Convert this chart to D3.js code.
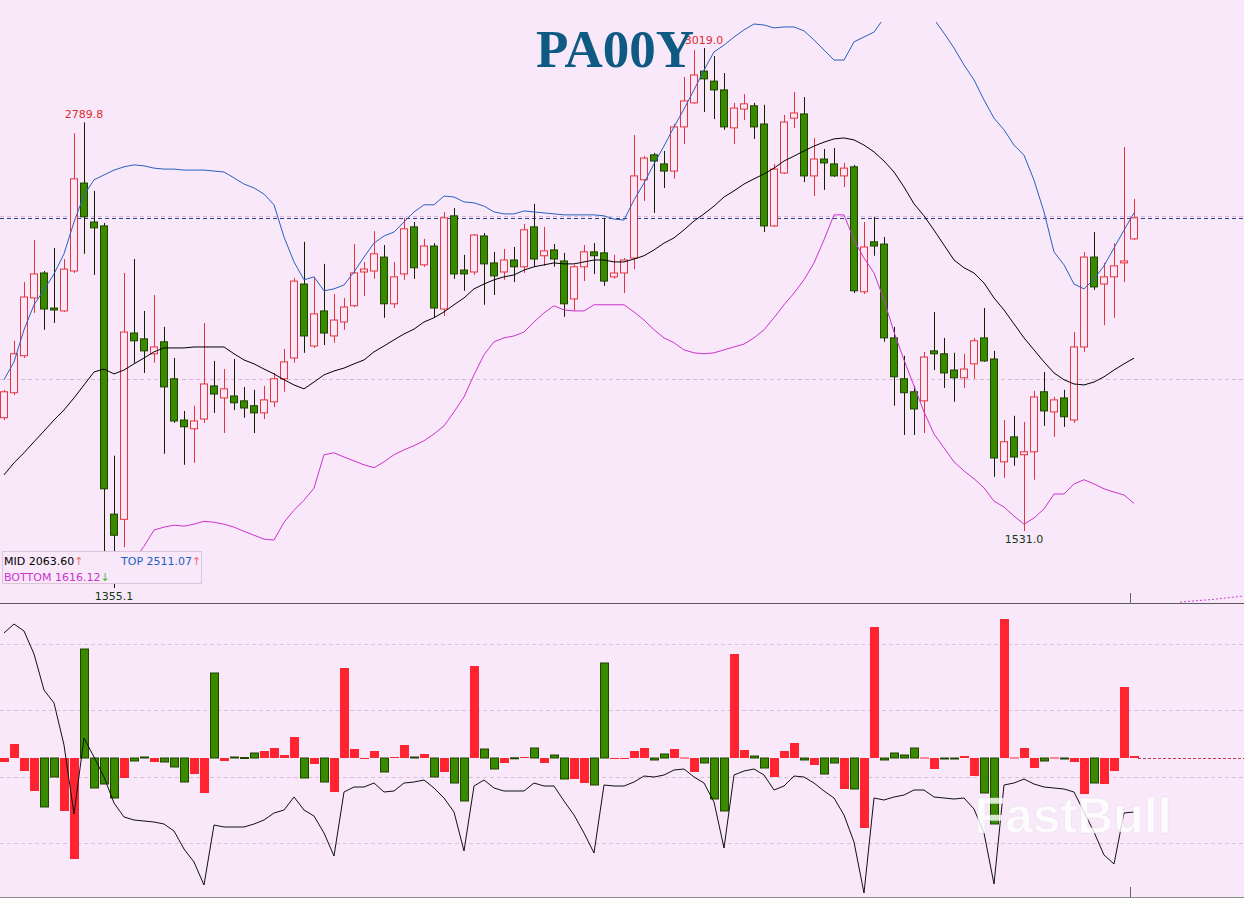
<!DOCTYPE html>
<html><head><meta charset="utf-8">
<script src="https://cdn.jsdelivr.net/npm/d3@7"></script>
<style>html,body{margin:0;padding:0;background:#f8e8fa;}svg{display:block}</style>
</head><body><svg id="c" width="1244" height="898"></svg>
<script>
// ---- data (price chart, daily candles) ----
const opens=[1880,1957,2071,2249,2326,2218,2209,2332,2603,2483,
2471,1583,1567,2141,2123,2077,2114,2000,1873,1846,
1876,1978,1941,1947,1932,1917,1895,1929,2000,2064,
2292,2101,2209,2132,2175,2225,2329,2332,2375,2231,
2323,2468,2351,2409,2215,2502,2335,2329,2440,2357,
2329,2366,2345,2468,2379,2397,2363,2246,2345,2391,
2388,2314,2326,2372,2613,2690,2662,2640,2776,2850,
2948,2917,2890,2773,2831,2841,2785,2471,2634,2803,
2816,2625,2677,2662,2625,2653,2268,2422,2415,2126,
2000,1960,1932,2086,2077,2027,2003,2046,2126,2061,
1744,1821,1766,1775,1960,1898,1941,1873,2098,2375,
2292,2314,2357,2431];
const highs=[1966,2117,2298,2428,2332,2403,2369,2757,2789.8,2579,
2480,1763,2326,2369,2209,2258,2160,2064,1901,1917,
2172,2055,2030,2061,1975,1966,1978,2018,2092,2311,
2422,2314,2354,2261,2249,2415,2360,2455,2412,2360,
2496,2483,2431,2418,2514,2526,2382,2446,2449,2391,
2400,2406,2477,2539,2468,2415,2388,2351,2412,2418,
2496,2382,2372,2751,2686,2696,2702,2785,2930,3013,
3019.0,2994,2942,2850,2877,2850,2844,2662,2813,2884,
2868,2742,2708,2711,2665,2659,2483,2499,2437,2160,
2071,1978,2083,2206,2126,2080,2077,2126,2218,2086,
1873,1886,1867,1963,2021,1944,1966,2144,2391,2452,
2357,2418,2714,2554];
const lows=[1873,1950,2064,2203,2151,2172,2206,2326,2385,2320,
1466,1355.1,1481,2049,2018,2049,1769,1864,1735,1741,
1864,1895,1833,1904,1880,1833,1876,1913,1960,2049,
2080,2095,2104,2111,2151,2221,2255,2308,2188,2218,
2305,2308,2345,2188,2194,2308,2271,2320,2228,2258,
2305,2298,2326,2345,2348,2345,2191,2209,2301,2323,
2286,2308,2264,2338,2548,2511,2588,2616,2723,2847,
2822,2800,2767,2723,2797,2739,2452,2468,2631,2773,
2606,2563,2582,2622,2591,2264,2261,2379,2114,1917,
1827,1827,1833,2027,1972,1929,1972,2000,2052,1698,
1695,1732,1531.0,1689,1855,1821,1852,1864,2083,2274,
2165,2188,2298,2428];
const closes=[1960,2077,2252,2323,2215,2212,2338,2616,2499,2465,
1661,1518,2144,2117,2086,2098,1975,1870,1852,1870,
1984,1953,1969,1926,1910,1895,1935,2000,2052,2301,
2132,2200,2141,2181,2221,2326,2338,2385,2231,2314,
2462,2342,2409,2218,2496,2323,2323,2443,2354,2317,
2366,2345,2459,2369,2394,2369,2231,2345,2391,2379,
2301,2326,2366,2625,2680,2671,2640,2776,2856,2936,
2924,2890,2776,2834,2847,2776,2471,2646,2791,2819,
2625,2677,2665,2625,2649,2271,2406,2409,2126,2006,
1957,1907,2067,2077,2018,2003,2030,2117,2055,1756,
1806,1759,1775,1944,1901,1935,1883,2098,2375,2283,
2314,2348,2363,2496];
// Bollinger bands
const bandMid=[1704,1741,1772,1806,1839,1873,1904,1941,1981,2021,
2030,2015,2027,2046,2064,2083,2095,2095,2095,2098,
2098,2098,2098,2077,2058,2046,2030,2015,1997,1981,
1969,1990,2012,2024,2033,2046,2058,2083,2101,2120,
2138,2153,2175,2188,2206,2228,2249,2277,2292,2305,
2314,2320,2335,2345,2351,2357,2354,2354,2360,2366,
2366,2360,2360,2369,2379,2397,2418,2434,2459,2486,
2508,2532,2560,2579,2600,2616,2631,2649,2671,2686,
2702,2717,2729,2739,2742,2736,2720,2699,2671,2637,
2591,2539,2502,2458,2412,2366,2342,2326,2295,2249,
2212,2169,2126,2089,2052,2018,1997,1984,1981,1990,
2006,2027,2046,2063.60];
const bandTop=[1997,2052,2151,2228,2274,2323,2385,2483,2566,2613,
2628,2643,2653,2659,2656,2649,2646,2646,2643,2643,
2643,2640,2637,2619,2600,2588,2569,2536,2437,2360,
2305,2314,2271,2277,2289,2329,2375,2418,2440,2452,
2483,2514,2536,2536,2563,2560,2545,2542,2532,2514,
2508,2508,2517,2514,2511,2508,2505,2505,2505,2505,
2502,2492,2489,2551,2603,2662,2717,2776,2831,2890,
2951,3007,3028,3053,3075,3093,3090,3081,3084,3084,
3072,3044,3013,2982,2982,3038,3053,3068,3112,3161,
3192,3192,3155,3108,3065,3019,2967,2921,2859,2803,
2767,2720,2689,2612,2514,2391,2351,2292,2277,2307,
2348,2403,2458,2511.07];
const bandBottom=[1410,1429,1392,1383,1404,1423,1423,1398,1395,1429,
1432,1386,1401,1441,1484,1534,1543,1549,1546,1552,
1561,1558,1552,1543,1530,1518,1506,1503,1558,1595,
1626,1663,1766,1772,1759,1747,1735,1726,1744,1766,
1781,1794,1809,1830,1855,1898,1944,2012,2074,2114,
2126,2132,2144,2175,2203,2225,2212,2209,2209,2228,
2228,2228,2228,2206,2181,2151,2126,2111,2089,2080,
2077,2080,2089,2098,2107,2126,2151,2188,2228,2264,
2305,2357,2428,2505,2505,2428,2372,2326,2243,2144,
2058,1978,1898,1830,1787,1744,1716,1692,1664,1623,
1605,1577,1552,1571,1599,1645,1645,1676,1689,1676,
1661,1651,1642,1616.12];
// lower indicator: histogram + oscillator line
const histVals=[-0.4,1.4,-1.3,-3.3,-4.9,-1.9,-5.3,-10.1,10.9,-3.0,
-2.6,-4.0,-2.0,-0.3,0.1,-0.4,-0.4,-0.9,-2.4,-1.6,
-3.5,8.5,-0.3,0.1,0.05,0.5,0.7,1.0,0.3,2.1,
-2.0,-0.6,-2.4,-3.4,9.0,0.9,-0.1,0.7,-1.4,0.1,
1.3,0.1,0.4,-1.9,-1.4,-2.5,-4.3,9.2,0.9,-1.1,
-0.5,0.02,0.1,1.0,-0.5,0.3,-2.1,-2.1,-2.5,-2.7,
9.5,-0.05,-0.1,0.7,1.0,-0.2,0.4,0.9,0.05,-1.4,
-0.5,-4.1,-5.3,10.4,0.8,0.2,-1.0,-1.9,0.7,1.5,
-0.2,-0.7,-1.6,-0.5,-3.1,-3.1,-7.0,13.1,-0.2,0.5,
0.3,1.0,0.05,-1.1,-0.1,-0.1,0.2,-1.8,-3.5,-6.6,
13.9,0.05,1.0,-1.0,-0.3,0.05,-0.1,-0.4,-3.6,-2.5,
-2.6,-1.3,7.1,0.2];
const histRed=[1,1,1,1,0,0,1,1,0,0,
0,0,1,0,0,1,0,0,0,1,
1,0,1,0,0,0,1,1,1,1,
0,1,0,1,1,1,1,1,0,1,
1,0,1,0,1,0,0,1,0,0,
1,0,1,0,1,0,0,1,1,0,
0,1,1,1,1,0,0,1,1,1,
0,0,0,1,1,0,0,1,1,1,
0,1,0,0,1,0,1,1,0,0,
0,0,1,1,0,0,1,1,0,0,
1,1,1,1,0,1,0,1,1,0,
1,1,1,1];
const oscVals=[12.5,13.4,12.7,10.4,6.8,5.5,1.3,-5.6,2.0,0.1,
-1.9,-4.5,-5.9,-6.2,-6.3,-6.4,-6.6,-7.3,-9.1,-10.4,
-12.7,-6.7,-6.9,-6.9,-6.9,-6.6,-6.2,-5.5,-5.2,-3.9,
-5.2,-5.8,-7.5,-9.8,-3.4,-2.9,-2.9,-2.5,-3.4,-3.3,
-2.5,-2.4,-2.2,-3.0,-4.0,-5.4,-9.3,-2.8,-2.2,-3.0,
-3.3,-3.3,-3.3,-2.5,-2.8,-2.8,-4.3,-5.7,-7.5,-9.5,
-2.7,-2.8,-2.8,-2.4,-1.8,-1.9,-1.7,-1.2,-1.1,-1.9,
-2.5,-4.4,-9.0,-1.7,-1.3,-1.1,-1.7,-3.2,-2.8,-1.8,
-1.9,-2.5,-3.3,-4.0,-5.7,-8.4,-13.5,-4.0,-4.2,-3.9,
-3.7,-3.2,-3.2,-3.9,-4.0,-4.1,-4.0,-5.1,-7.5,-12.6,
-2.7,-2.5,-2.1,-2.6,-2.9,-3.0,-3.1,-3.4,-5.4,-7.4,
-9.7,-10.6,-5.5,-5.4];
const priceGrid=[2000,2500];
const lowerGrid=[11.4,4.8,-1.9,-8.5];
const markHighIdx=[8,70];
const markLowIdx=[11,102];
const bandNames=["MID","TOP","BOTTOM"];
const titleText="PA00Y";

// ---- drawing ----
const BG="#f8e8fa";
const UP="#e8323c", DN="#3a8a00", DNS="#1e4400";
const svg=d3.select("#c");
const n=closes.length;
const x=d3.scaleLinear().domain([0,n-1]).range([4,1134]);
const y=d3.scaleLinear().domain([1309.2,3167]).range([603,0]);
const yl=d3.scaleLinear().domain([-13.9,15.5]).range([897,603]);

svg.append("rect").attr("width",1244).attr("height",898).attr("fill",BG);
const defs=svg.append("defs");
defs.append("clipPath").attr("id","up").append("rect").attr("x",0).attr("y",22).attr("width",1244).attr("height",581);
defs.append("clipPath").attr("id","upc").append("rect").attr("x",0).attr("y",0).attr("width",1244).attr("height",603);

const gU=svg.append("g");
// grid
gU.selectAll(".pg").data(priceGrid).enter().append("line")
 .attr("x1",0).attr("x2",1244).attr("y1",d=>Math.round(y(d))+0.5).attr("y2",d=>Math.round(y(d))+0.5)
 .attr("stroke","#d9b9d9").attr("stroke-dasharray","4,3");
// last price line
const lastY=Math.round(y(closes[n-1]))+0.5;
gU.append("line").attr("x1",0).attr("x2",1244).attr("y1",lastY).attr("y2",lastY)
 .attr("stroke","#2b3f8c").attr("stroke-dasharray","4,3");

// candles
const gc=gU.append("g").attr("clip-path","url(#upc)");
const idx=d3.range(n);
gc.selectAll(".wk").data(idx).enter().append("line")
 .attr("x1",i=>x(i)+0.5).attr("x2",i=>x(i)+0.5)
 .attr("y1",i=>y(highs[i])).attr("y2",i=>y(lows[i]))
 .attr("stroke",i=>closes[i]>=opens[i]?UP:"#102000").attr("stroke-width",1);
gc.selectAll(".bd").data(idx).enter().append("rect")
 .attr("x",i=>x(i)-3.5)
 .attr("y",i=>y(Math.max(opens[i],closes[i])))
 .attr("width",7)
 .attr("height",i=>Math.max(1,Math.abs(y(opens[i])-y(closes[i]))))
 .attr("fill",i=>closes[i]>=opens[i]?BG:DN)
 .attr("stroke",i=>closes[i]>=opens[i]?UP:DNS).attr("stroke-width",1);

// bands
const gb=gU.append("g").attr("clip-path","url(#up)");
const ln=d3.line().x((d,i)=>x(i)).y(d=>y(d));
gb.append("path").datum(bandBottom).attr("d",ln).attr("fill","none").attr("stroke","#cc33cc").attr("stroke-width",1);
gb.append("path").datum(bandTop).attr("d",ln).attr("fill","none").attr("stroke","#2860c0").attr("stroke-width",1);
gb.append("path").datum(bandMid).attr("d",ln).attr("fill","none").attr("stroke","#000").attr("stroke-width",1);

// high / low markers
const lblFont="'DejaVu Sans', Verdana, sans-serif";
markHighIdx.forEach(i=>{
 gU.append("text").attr("x",x(i)).attr("y",y(highs[i])-4).attr("text-anchor","middle")
  .attr("font-family",lblFont).attr("font-size",11).attr("fill","#e02c2c").text(highs[i].toFixed(1));
});
markLowIdx.forEach(i=>{
 gU.append("text").attr("x",x(i)).attr("y",y(lows[i])+12).attr("text-anchor","middle")
  .attr("font-family",lblFont).attr("font-size",11).attr("fill","#143814").text(lows[i].toFixed(1));
});

// legend
const bands=[bandMid,bandTop,bandBottom];
const bandCols=["#000","#1f5fc0","#cc33cc"];
const legPos=[[4,565],[121,565],[4,581]];
svg.append("rect").attr("x",2.5).attr("y",551.5).attr("width",199).attr("height",32)
 .attr("fill",BG).attr("stroke","#dcc4dc");
bandNames.forEach((nm,k)=>{
 const arr=bands[k], last=arr[arr.length-1], prev=arr[arr.length-2];
 const up=last>=prev;
 const t=svg.append("text").attr("x",legPos[k][0]).attr("y",legPos[k][1])
  .attr("font-family",lblFont).attr("font-size",11);
 t.append("tspan").attr("fill",bandCols[k]).text(nm+" "+last.toFixed(2));
 t.append("tspan").attr("fill",up?"#f07070":"#40c040").text(up?"↑":"↓");
});

// panel separators
svg.append("line").attr("x1",0).attr("x2",1244).attr("y1",603.5).attr("y2",603.5).attr("stroke","#5a5a5a");
svg.append("line").attr("x1",0).attr("x2",1244).attr("y1",897.5).attr("y2",897.5).attr("stroke","#8a8a8a");
svg.append("line").attr("x1",x(n-1)-3.5).attr("x2",x(n-1)-3.5).attr("y1",593).attr("y2",603).attr("stroke","#666");
svg.append("line").attr("x1",x(n-1)-3.5).attr("x2",x(n-1)-3.5).attr("y1",887).attr("y2",897).attr("stroke","#666");
// dotted band tail at lower-right of price panel
svg.append("path").attr("d","M1180,602 L1212,599.5 L1244,596").attr("fill","none")
 .attr("stroke","#d040d0").attr("stroke-dasharray","2,2");

// lower panel
const gL=svg.append("g");
gL.selectAll(".lg").data(lowerGrid).enter().append("line")
 .attr("x1",0).attr("x2",1244).attr("y1",d=>Math.round(yl(d))+0.5).attr("y2",d=>Math.round(yl(d))+0.5)
 .attr("stroke","#d9c1d9").attr("stroke-dasharray","4,3");
const z=yl(0);
gL.append("line").attr("x1",x(n-1)+4).attr("x2",1244).attr("y1",z+0.5).attr("y2",z+0.5)
 .attr("stroke","#c83848").attr("stroke-dasharray","3,2");
gL.selectAll(".hb").data(idx).enter().append("rect")
 .attr("x",i=>histRed[i]?x(i)-4:x(i)-3.5)
 .attr("width",i=>histRed[i]?9:8)
 .attr("y",i=>Math.min(z,yl(histVals[i])))
 .attr("height",i=>Math.max(1,Math.abs(yl(histVals[i])-z)))
 .attr("fill",i=>histRed[i]?"#ff2430":DN)
 .attr("stroke",i=>histRed[i]?"none":DNS).attr("stroke-width",1);
gL.append("path").datum(oscVals).attr("d",d3.line().x((d,i)=>x(i)).y(d=>yl(d)))
 .attr("fill","none").attr("stroke","#111").attr("stroke-width",1);

// watermark
svg.append("text").attr("x",1073).attr("y",833).attr("text-anchor","middle")
 .attr("font-family","'Liberation Sans', Arial, sans-serif").attr("font-weight","bold").attr("font-size",50)
 .attr("fill","#ffffff").attr("fill-opacity",0.8).attr("stroke","#dddddd").attr("stroke-opacity",0.4).text("FastBull");

// title
svg.append("text").attr("x",615).attr("y",67).attr("text-anchor","middle")
 .attr("font-family","'Liberation Serif','Times New Roman',serif").attr("font-weight","bold").attr("font-size",53)
 .attr("fill","#0e5a82").text(titleText);
</script></body></html>
